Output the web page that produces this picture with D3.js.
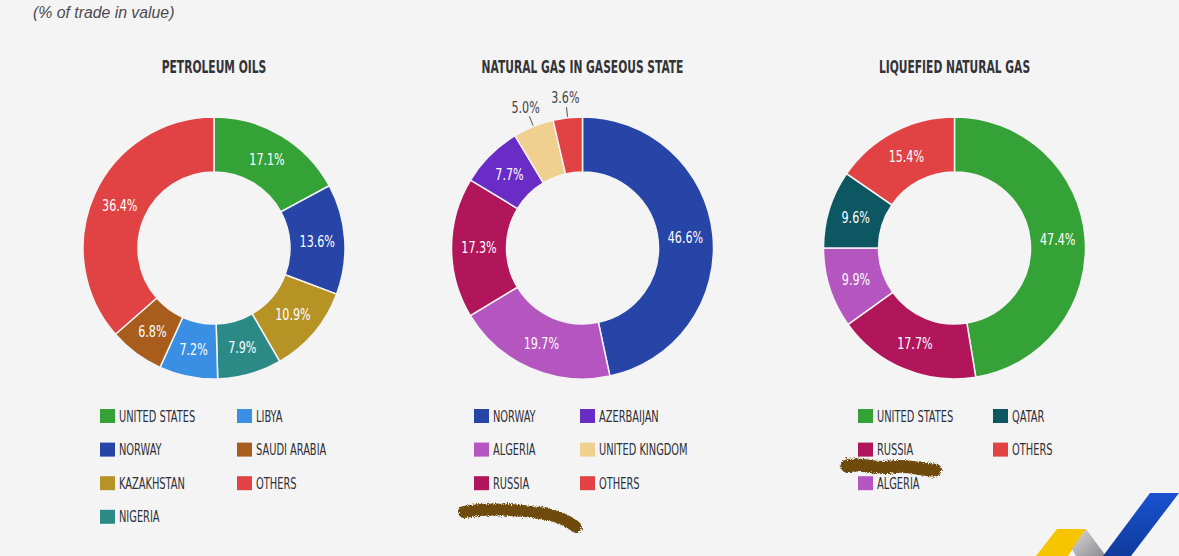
<!DOCTYPE html>
<html>
<head>
<meta charset="utf-8">
<script src="https://d3js.org/d3.v7.min.js"></script>
<style>
  body { margin: 0; background: #f4f4f4; }
  svg { display: block; }
</style>
</head>
<body>
<script>
	"use strict";

	// data (shares in % of trade value)
	var chartTitles = ["PETROLEUM OILS", "NATURAL GAS IN GASEOUS STATE", "LIQUEFIED NATURAL GAS"];

	var petroleumCountries = ["UNITED STATES", "NORWAY", "KAZAKHSTAN", "NIGERIA", "LIBYA", "SAUDI ARABIA", "OTHERS"];
	var petroleumShares = [17.1, 13.6, 10.9, 7.9, 7.2, 6.8, 36.4];

	var gasCountries = ["NORWAY", "ALGERIA", "RUSSIA", "AZERBAIJAN", "UNITED KINGDOM", "OTHERS"];
	var gasShares = [46.6, 19.7, 17.3, 7.7, 5.0, 3.6];

	var lngCountries = ["UNITED STATES", "RUSSIA", "ALGERIA", "QATAR", "OTHERS"];
	var lngShares = [47.4, 17.7, 9.9, 9.6, 15.4];

	// colours per country
	var colours = {
		"UNITED STATES": "#35a238",
		"NORWAY": "#2745a7",
		"KAZAKHSTAN": "#b79325",
		"NIGERIA": "#2b8a85",
		"LIBYA": "#3a8fe5",
		"SAUDI ARABIA": "#a85d1c",
		"OTHERS": "#e14345",
		"ALGERIA": "#b455c0",
		"RUSSIA": "#b1165b",
		"AZERBAIJAN": "#6a2cc7",
		"UNITED KINGDOM": "#f0d08f",
		"QATAR": "#0c5761"
	};

	var width = 1179, height = 556;
	var rOuter = 131, rInner = 76, cy = 248;
	var narrow = "'Liberation Sans Narrow', 'DejaVu Sans Condensed', sans-serif";

	var charts = [
		{ title: chartTitles[0], names: petroleumCountries, values: petroleumShares, cx: 214, legendX: 100, colGap: 137 },
		{ title: chartTitles[1], names: gasCountries, values: gasShares, cx: 582.5, legendX: 474, colGap: 106 },
		{ title: chartTitles[2], names: lngCountries, values: lngShares, cx: 954.5, legendX: 858, colGap: 135 }
	];

	var svg = d3.select("body")
				.append("svg")
				.attr("width", width)
				.attr("height", height);

	svg.append("rect")
		.attr("width", width)
		.attr("height", height)
		.attr("fill", "#f4f4f4");

	var defs = svg.append("defs");
	var rough = defs.append("filter")
		.attr("id", "rough")
		.attr("filterUnits", "userSpaceOnUse")
		.attr("x", 0).attr("y", 0)
		.attr("width", width).attr("height", height);
	rough.append("feTurbulence")
		.attr("type", "fractalNoise")
		.attr("baseFrequency", 0.8)
		.attr("numOctaves", 2)
		.attr("result", "noise");
	rough.append("feDisplacementMap")
		.attr("in", "SourceGraphic")
		.attr("in2", "noise")
		.attr("scale", 6);

	// subtitle
	svg.append("text")
		.attr("transform", "translate(33,18) scale(0.93,1)")
		.text("(% of trade in value)")
		.attr("font-family", "'Liberation Sans', sans-serif")
		.attr("font-style", "italic")
		.attr("font-size", "17px")
		.attr("fill", "#4a4a52");

	var pie = d3.pie().sort(null).value(function(d) { return d.value; });
	var arc = d3.arc().innerRadius(rInner).outerRadius(rOuter);
	var fmt = d3.format(".1f");

	charts.forEach(function(c) {
		var data = c.names.map(function(n, i) { return { name: n, value: c.values[i] }; });
		var g = svg.append("g").attr("transform", "translate(" + c.cx + "," + cy + ")");

		// title
		svg.append("text")
			.attr("transform", "translate(" + c.cx + ",72.5) scale(0.68,1)")
			.attr("text-anchor", "middle")
			.text(c.title)
			.attr("font-family", narrow)
			.attr("font-weight", "bold")
			.attr("font-size", "17.5px")
			.attr("fill", "#333338");

		var slices = pie(data);

		g.selectAll("path")
			.data(slices)
			.enter()
			.append("path")
			.attr("d", arc)
			.attr("fill", function(d) { return colours[d.data.name]; })
			.attr("stroke", "#f4f4f4")
			.attr("stroke-width", 1.5);

		slices.forEach(function(d) {
			var txt = fmt(d.data.value) + "%";
			var mid = (d.startAngle + d.endAngle) / 2;
			var sx = Math.sin(mid), sy = -Math.cos(mid);
			var x, y, fill;
			if (d.data.value < 6) {
				// small slice: label outside with a leader line
				g.append("line")
					.attr("x1", sx * (rOuter + 1))
					.attr("y1", sy * (rOuter + 1))
					.attr("x2", sx * (rOuter + 11))
					.attr("y2", sy * (rOuter + 11))
					.attr("stroke", "#555")
					.attr("stroke-width", 1);
				x = sx * (rOuter + 21);
				y = sy * (rOuter + 21);
				fill = "#444448";
			} else {
				var p = arc.centroid(d);
				x = p[0];
				y = p[1];
				fill = "#ffffff";
			}
			g.append("text")
				.attr("transform", "translate(" + x + "," + y + ") scale(0.8,1)")
				.attr("text-anchor", "middle")
				.attr("dy", "0.36em")
				.text(txt)
				.attr("font-family", narrow)
				.attr("font-size", "15.5px")
				.attr("fill", fill);
		});

		// legend, column by column
		var rows = Math.ceil(data.length / 2);
		data.forEach(function(d, i) {
			var col = Math.floor(i / rows), row = i % rows;
			var lx = c.legendX + col * c.colGap;
			var ly = 416 + row * 33.6;
			svg.append("rect")
				.attr("x", lx)
				.attr("y", ly - 7)
				.attr("width", 15)
				.attr("height", 14)
				.attr("fill", colours[d.name]);
			svg.append("text")
				.attr("transform", "translate(" + (lx + 19) + "," + (ly + 5.5) + ") scale(0.73,1)")
				.text(d.name)
				.attr("font-family", narrow)
				.attr("font-size", "15px")
				.attr("fill", "#2f2f37");
		});
	});

	// pen scribbles on the picture
	svg.append("path")
		.attr("d", "M464,512 C490,508 522,510 546,514 C560,517 570,522 576,527")
		.attr("fill", "none")
		.attr("stroke", "#6e4c10")
		.attr("stroke-width", 12)
		.attr("stroke-linecap", "round")
		.attr("filter", "url(#rough)");
	svg.append("path")
		.attr("d", "M847,466 C862,462 874,470 891,467 C910,464 922,471 935,470")
		.attr("fill", "none")
		.attr("stroke", "#6e4c10")
		.attr("stroke-width", 13)
		.attr("stroke-linecap", "round")
		.attr("filter", "url(#rough)");

	// logo corner
	var grey = defs.append("linearGradient").attr("id", "greyGrad")
		.attr("x1", 0).attr("y1", 0).attr("x2", 1).attr("y2", 1);
	grey.append("stop").attr("offset", 0).attr("stop-color", "#d8d8d8");
	grey.append("stop").attr("offset", 1).attr("stop-color", "#8c8c90");
	var blue = defs.append("linearGradient").attr("id", "blueGrad")
		.attr("x1", 0).attr("y1", 0).attr("x2", 0).attr("y2", 1);
	blue.append("stop").attr("offset", 0).attr("stop-color", "#1a52d0");
	blue.append("stop").attr("offset", 1).attr("stop-color", "#0f3b9c");

	svg.append("polygon")
		.attr("points", "1036,556 1057,529 1086,529 1068,556")
		.attr("fill", "#f6c500");
	svg.append("polygon")
		.attr("points", "1086,529 1106,556 1076,556 1072,549")
		.attr("fill", "url(#greyGrad)");
	svg.append("polygon")
		.attr("points", "1103,556 1150,493 1179,493 1131,556")
		.attr("fill", "url(#blueGrad)");
</script>
</body>
</html>
